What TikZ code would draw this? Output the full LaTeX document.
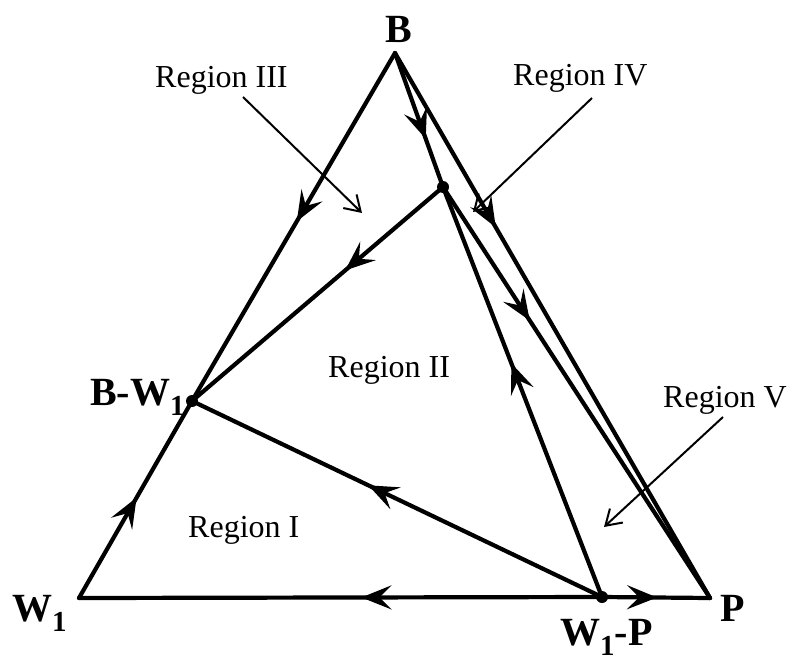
\documentclass[tikz,border=0pt]{standalone}
\usepackage{fontspec}
\setmainfont{Liberation Serif}
\usetikzlibrary{arrows.meta,decorations.markings}
\tikzset{
  edge/.style={line width=4.2pt,line cap=round,line join=round},
  midarrow/.style={postaction={decorate,decoration={markings,
    mark=at position #1 with {\arrow{Stealth[length=30pt,width=24pt,inset=12pt]}}}}},
  pointer/.style={line width=2pt,-{Straight Barb[length=15pt,width=19pt,line width=2pt]}},
  region/.style={inner sep=0pt,anchor=base west,font=\fontsize{32}{36}\selectfont},
  corner/.style={inner sep=0pt,font=\fontsize{40}{44}\selectfont\bfseries},
  dot/.style={circle,fill=black,inner sep=0pt,minimum size=12pt}
}
\newcommand{\subone}{\raisebox{-0.25em}{\fontsize{29}{30}\selectfont 1}}
\begin{document}
\begin{tikzpicture}[x=1pt,y=-1pt]
\useasboundingbox (0,0) rectangle (794,661);
\coordinate (B) at (395,53);
\coordinate (W1) at (79,598);
\coordinate (P) at (710,598);
\coordinate (BW) at (192,401);
\coordinate (WP) at (602,597);
\coordinate (T) at (443,187);
% main edges
\draw[edge,midarrow=0.484] (B) -- (BW);
\draw[edge,midarrow=0.51] (W1) -- (BW);
\draw[edge,midarrow=0.39] (T) -- (BW);
\draw[edge,midarrow=0.57] (WP) -- (BW);
\draw[edge,midarrow=0.46] (WP) -- (W1);
\draw[edge,midarrow=0.51] (WP) -- (P);
\draw[edge,midarrow=0.57] (WP) -- (T);
\draw[edge,midarrow=0.64] (B) -- (T);
\draw[edge,midarrow=0.32] (B) -- (P);
\draw[edge,midarrow=0.325] (T) -- (P);
% dots
\node[dot] (dBW) at (BW) {};
\node[dot] (dWP) at (WP) {};
\node[dot] (dT) at (T) {};
% corner labels
\node[corner,anchor=base] (lB) at (399,42) {B};
\node[corner,anchor=base west] (lBW) at (90,405) {B-W\subone};
\node[corner,anchor=base west] (lW1) at (12,621) {W\subone};
\node[corner,anchor=base west] (lP) at (720,621) {P};
\node[corner,anchor=base west] (lWP) at (560,645) {W\subone-P};
% region labels
\node[region] (r3) at (155,87) {Region III};
\node[region] (r4) at (513,85) {Region IV};
\node[region] (r2) at (328,377) {Region II};
\node[region] (r1) at (188,537) {Region I};
\node[region] (r5) at (663,407) {Region V};
% pointers
\coordinate (p3s) at (243,97);  \coordinate (p3e) at (362,213);
\coordinate (p4s) at (592,98);  \coordinate (p4e) at (473,212);
\coordinate (p5s) at (723,417); \coordinate (p5e) at (604,527);
\draw[pointer] (p3s) -- (p3e);
\draw[pointer] (p4s) -- (p4e);
\draw[pointer] (p5s) -- (p5e);
\end{tikzpicture}
\end{document}
